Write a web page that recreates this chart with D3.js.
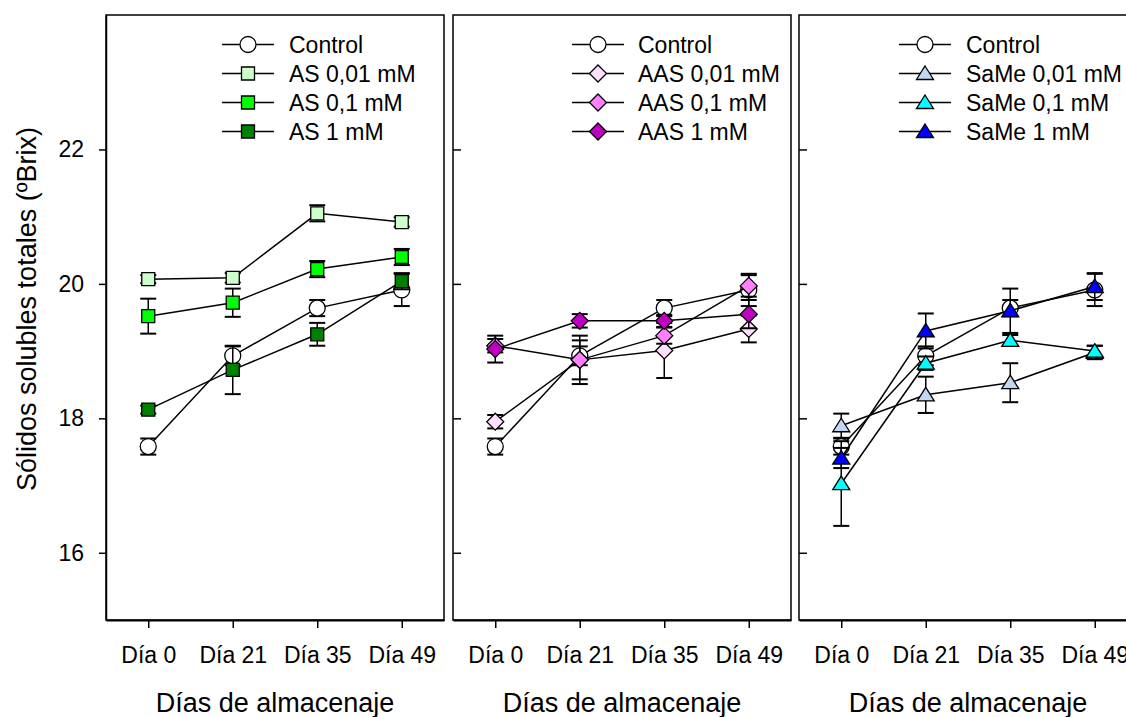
<!DOCTYPE html>
<html><head><meta charset="utf-8">
<script src="https://cdn.jsdelivr.net/npm/d3@7"></script>
<style>
body{margin:0;background:#fff;}
svg text{font-family:"Liberation Sans",Arial,sans-serif;fill:#000;}
</style></head>
<body><svg id="chart" width="1126" height="717"></svg>
<script>
const categories = ["Día 0", "Día 21", "Día 35", "Día 49"];
const yTicks = [16, 18, 20, 22];

const control = [17.58, 18.93, 19.64, 19.91];
const controlErr = [0.12, 0.14, 0.12, 0.24];

const as001 = [20.07, 20.09, 21.05, 20.92];
const as001Err = [0.06, 0.07, 0.12, 0.07];
const as01 = [19.52, 19.72, 20.22, 20.40];
const as01Err = [0.26, 0.21, 0.12, 0.12];
const as1 = [18.13, 18.72, 19.25, 20.04];
const as1Err = [0.06, 0.36, 0.17, 0.12];

const aas001 = [17.95, 18.87, 19.01, 19.33];
const aas001Err = [0.10, 0.29, 0.41, 0.20];
const aas01 = [19.08, 18.87, 19.23, 19.97];
const aas01Err = [0.10, 0.36, 0.12, 0.16];
const aas1 = [19.03, 19.45, 19.45, 19.55];
const aas1Err = [0.20, 0.10, 0.09, 0.21];

const same001 = [17.89, 18.35, 18.53, 18.98];
const same001Err = [0.18, 0.27, 0.29, 0.10];
const same01 = [17.03, 18.82, 19.16, 19.00];
const same01Err = [0.63, 0.10, 0.08, 0.08];
const same1 = [17.41, 19.30, 19.60, 19.96];
const same1Err = [0.15, 0.26, 0.33, 0.20];

const panels = [
  {left:106, legX:248, legT:289, series:[
    {name:"Control", v:control, e:controlErr, shape:"circle", fill:"#ffffff"},
    {name:"AS 0,01 mM", v:as001, e:as001Err, shape:"square", fill:"#ccffcc"},
    {name:"AS 0,1 mM", v:as01, e:as01Err, shape:"square", fill:"#00ff00"},
    {name:"AS 1 mM", v:as1, e:as1Err, shape:"square", fill:"#008000"}]},
  {left:453, legX:598, legT:638, series:[
    {name:"Control", v:control, e:controlErr, shape:"circle", fill:"#ffffff"},
    {name:"AAS 0,01 mM", v:aas001, e:aas001Err, shape:"diamond", fill:"#ffe0ff"},
    {name:"AAS 0,1 mM", v:aas01, e:aas01Err, shape:"diamond", fill:"#ff80ff"},
    {name:"AAS 1 mM", v:aas1, e:aas1Err, shape:"diamond", fill:"#c000c0"}]},
  {left:799, legX:925, legT:966, series:[
    {name:"Control", v:control, e:controlErr, shape:"circle", fill:"#ffffff"},
    {name:"SaMe 0,01 mM", v:same001, e:same001Err, shape:"triangle", fill:"#c0d8f0"},
    {name:"SaMe 0,1 mM", v:same01, e:same01Err, shape:"triangle", fill:"#00ffff"},
    {name:"SaMe 1 mM", v:same1, e:same1Err, shape:"triangle", fill:"#0000ff"}]}
];

const svg = d3.select("#chart");
const W = 338, plotTop = 15, plotBottom = 620;
const y = d3.scaleLinear().domain([15, 24]).range([plotBottom, plotTop]);

function shapePath(shape){
  if(shape==="circle") return "M8,0A8,8 0 1,1 -8,0A8,8 0 1,1 8,0Z";
  if(shape==="square") return "M-6.5,-6.5H6.5V6.5H-6.5Z";
  if(shape==="diamond") return "M0,-8.5L8.5,0L0,8.5L-8.5,0Z";
  return "M0,-7.5L8.5,6L-8.5,6Z";
}

panels.forEach((p, pi) => {
  const x = d3.scalePoint().domain(categories).range([p.left, p.left + W]).padding(0.5);
  const g = svg.append("g");

  g.append("rect").attr("x", p.left).attr("y", plotTop).attr("width", W).attr("height", plotBottom - plotTop)
    .attr("fill", "none").attr("stroke", "#000").attr("stroke-width", 1.5);

  const xa = g.append("g").attr("transform", `translate(0,${plotBottom})`)
    .call(d3.axisBottom(x).tickSize(8).tickPadding(19).tickSizeOuter(0));
  xa.select(".domain").attr("stroke-width", 2);
  xa.selectAll(".tick line").attr("stroke-width", 1.5);
  xa.selectAll("text").style("font-size", "23px");

  if(pi === 0){
    const ya = g.append("g").attr("transform", `translate(${p.left},0)`)
      .call(d3.axisLeft(y).tickValues(yTicks).tickSize(7).tickPadding(15).tickSizeOuter(0));
    ya.select(".domain").attr("stroke-width", 1.5);
    ya.selectAll(".tick line").attr("stroke-width", 1.5);
    ya.selectAll("text").style("font-size", "23px");
  } else {
    const ya = g.append("g").attr("transform", `translate(${p.left},0)`)
      .call(d3.axisRight(y).tickValues(yTicks).tickSize(8).tickFormat("").tickSizeOuter(0));
    ya.select(".domain").remove();
    ya.selectAll(".tick line").attr("stroke-width", 1.5);
  }

  g.append("text").attr("x", p.left + W/2).attr("y", 712).attr("text-anchor", "middle")
    .style("font-size", "27px").text("Días de almacenaje");

  const line = d3.line().x((d,i) => x(categories[i])).y(d => y(d));
  p.series.forEach(s => {
    const sg = g.append("g");
    sg.append("path").attr("d", line(s.v)).attr("fill", "none").attr("stroke", "#000").attr("stroke-width", 1.5);
    s.v.forEach((v, i) => {
      const cx = x(categories[i]);
      const y1 = y(v + s.e[i]), y2 = y(v - s.e[i]);
      sg.append("line").attr("x1", cx).attr("x2", cx).attr("y1", y1).attr("y2", y2)
        .attr("stroke", "#000").attr("stroke-width", 1.5);
      [y1, y2].forEach(yy => sg.append("line").attr("x1", cx - 8).attr("x2", cx + 8)
        .attr("y1", yy).attr("y2", yy).attr("stroke", "#000").attr("stroke-width", 2));
    });
    s.v.forEach((v, i) => {
      sg.append("path").attr("d", shapePath(s.shape))
        .attr("transform", `translate(${x(categories[i])},${y(v)})`)
        .attr("fill", s.fill).attr("stroke", "#000").attr("stroke-width", 1.3);
    });
  });

  const lg = g.append("g");
  p.series.forEach((s, i) => {
    const ly = 44.5 + i * 29;
    lg.append("line").attr("x1", p.legX - 26).attr("x2", p.legX + 26).attr("y1", ly).attr("y2", ly)
      .attr("stroke", "#000").attr("stroke-width", 1.5);
    lg.append("path").attr("d", shapePath(s.shape)).attr("transform", `translate(${p.legX},${ly})`)
      .attr("fill", s.fill).attr("stroke", "#000").attr("stroke-width", 1.3);
    lg.append("text").attr("x", p.legT).attr("y", ly).attr("dy", "0.36em")
      .style("font-size", "23px").text(s.name);
  });
});

svg.append("text").attr("transform", "translate(36,309) rotate(-90)").attr("text-anchor", "middle")
  .style("font-size", "27px").text("Sólidos solubles totales (ºBrix)");
</script>
</body></html>
